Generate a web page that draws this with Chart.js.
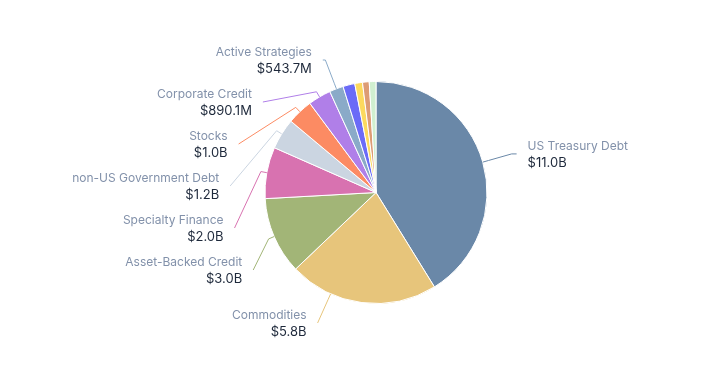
<!DOCTYPE html>
<html lang="en">
<head>
    <meta charset="UTF-8">
    <title>Holdings by Asset Class</title>
    <script src="https://cdn.jsdelivr.net/npm/chart.js"></script>
    <style>
        html, body { margin: 0; padding: 0; background: #fff; }
        #wrap { width: 713px; height: 367px; }
    </style>
</head>
<body>
    <div id="wrap"><canvas id="chart"></canvas></div>

    <script>
        // values in billions of USD
        const categories = ['US Treasury Debt', 'Commodities', 'Asset-Backed Credit', 'Specialty Finance',
            'non-US Government Debt', 'Stocks', 'Corporate Credit', 'Active Strategies',
            'Other A', 'Other B', 'Other C', 'Other D'];
        const values = [11.0, 5.8, 3.0, 2.0, 1.2, 1.0, 0.8901, 0.5437, 0.46, 0.30, 0.26, 0.26];
        const colors = ['#6a88a8', '#e7c57b', '#a2b577', '#d872b0', '#cbd5e1', '#fc8b63',
            '#b07fe8', '#8aaac8', '#6b6bf7', '#fcd95e', '#dd9c74', '#d0efd0'];

        const minLabelShare = 0.02;   // smaller slices get no label
        const labelDistance = 30;
        const labelBox = 42;
        const labelTop = 39;
        const labelBottom = 344;
        const fontFamily = 'Inter, Helvetica, Arial, sans-serif';

        function formatMoney(v) {
            return v >= 1 ? '$' + v.toFixed(1) + 'B' : '$' + (v * 1000).toFixed(1) + 'M';
        }

        // push overlapping label boxes apart, keep them inside [labelTop, labelBottom]
        function distribute(items) {
            items.sort((a, b) => a.target - b.target);
            let groups = items.map(it => ({ items: [it], sum: it.target }));
            const place = g => {
                const size = g.items.length * labelBox;
                let top = g.sum / g.items.length - size / 2;
                top = Math.min(Math.max(top, labelTop), labelBottom - size);
                g.top = top;
            };
            let merged = true;
            while (merged) {
                merged = false;
                groups.forEach(place);
                for (let k = 0; k < groups.length - 1; k++) {
                    const a = groups[k], b = groups[k + 1];
                    if (a.top + a.items.length * labelBox > b.top + 0.01) {
                        a.items = a.items.concat(b.items);
                        a.sum += b.sum;
                        groups.splice(k + 1, 1);
                        merged = true;
                        break;
                    }
                }
            }
            groups.forEach(g => g.items.forEach((it, k) => { it.ly = g.top + k * labelBox + labelBox / 2; }));
        }

        function crookAt(it, ang) {
            return it.cx + (it.cy - it.ly) * Math.tan(ang - Math.PI / 2);
        }

        const outsideLabels = {
            id: 'outsideLabels',
            afterDatasetsDraw(chart) {
                const ctx = chart.ctx;
                const arcs = chart.getDatasetMeta(0).data;
                const total = values.reduce((a, b) => a + b, 0);
                const items = [];
                arcs.forEach((arc, i) => {
                    if (values[i] / total < minLabelShare) return;
                    const p = arc.getProps(['x', 'y', 'startAngle', 'endAngle', 'outerRadius'], true);
                    const mid = (p.startAngle + p.endAngle) / 2;
                    items.push({
                        i, cx: p.x, cy: p.y, r: p.outerRadius, mid,
                        left: Math.cos(mid) < 0,
                        target: p.y + Math.sin(mid) * (p.outerRadius + labelDistance)
                    });
                });
                distribute(items.filter(it => it.left));
                distribute(items.filter(it => !it.left));

                items.forEach(it => {
                    const R = it.r + labelDistance;
                    const dir = it.left ? -1 : 1;
                    const dy = it.ly - it.cy;
                    const lx = it.cx + dir * (Math.sqrt(Math.max(0, R * R - dy * dy)) + 5);
                    const breakR = it.r + labelDistance / 5;

                    const geom = ang => {
                        const brk = { x: it.cx + Math.cos(ang) * breakR, y: it.cy + Math.sin(ang) * breakR };
                        const cx = crookAt(it, ang);
                        const between = it.left ? (cx >= lx && cx <= brk.x) : (cx <= lx && cx >= brk.x);
                        return { ang, brk, crookX: cx, between };
                    };
                    // connector from the slice middle; if that gives a long flat run, aim at the label instead
                    let g = geom(it.mid);
                    if (g.between && Math.abs(g.crookX - lx) > 20) {
                        g = geom(Math.atan2(it.ly - it.cy, lx - it.cx));
                    }
                    const touch = { x: it.cx + Math.cos(g.ang) * it.r, y: it.cy + Math.sin(g.ang) * it.r };

                    ctx.save();
                    ctx.strokeStyle = colors[it.i];
                    ctx.lineWidth = 1;
                    ctx.beginPath();
                    ctx.moveTo(lx, it.ly);
                    if (g.between) ctx.lineTo(g.crookX, it.ly);
                    ctx.lineTo(g.brk.x, g.brk.y);
                    ctx.lineTo(touch.x, touch.y);
                    ctx.stroke();

                    const tx = lx + dir * 11;
                    ctx.textAlign = it.left ? 'right' : 'left';
                    ctx.textBaseline = 'middle';
                    ctx.fillStyle = '#8291aa';
                    ctx.font = '12px ' + fontFamily;
                    ctx.fillText(categories[it.i], tx, it.ly - 8);
                    ctx.fillStyle = '#1e293b';
                    ctx.font = '13px ' + fontFamily;
                    ctx.fillText(formatMoney(values[it.i]), tx, it.ly + 9);
                    ctx.restore();
                });
            }
        };

        new Chart(document.getElementById('chart'), {
            type: 'pie',
            data: {
                labels: categories,
                datasets: [{
                    data: values,
                    backgroundColor: colors,
                    borderColor: '#ffffff',
                    borderWidth: 1
                }]
            },
            options: {
                responsive: true,
                maintainAspectRatio: false,
                animation: false,
                layout: { padding: { top: 81, bottom: 63, left: 100, right: 61 } },
                plugins: {
                    legend: { display: false },
                    tooltip: { enabled: true }
                }
            },
            plugins: [outsideLabels]
        });
    </script>
</body>
</html>
